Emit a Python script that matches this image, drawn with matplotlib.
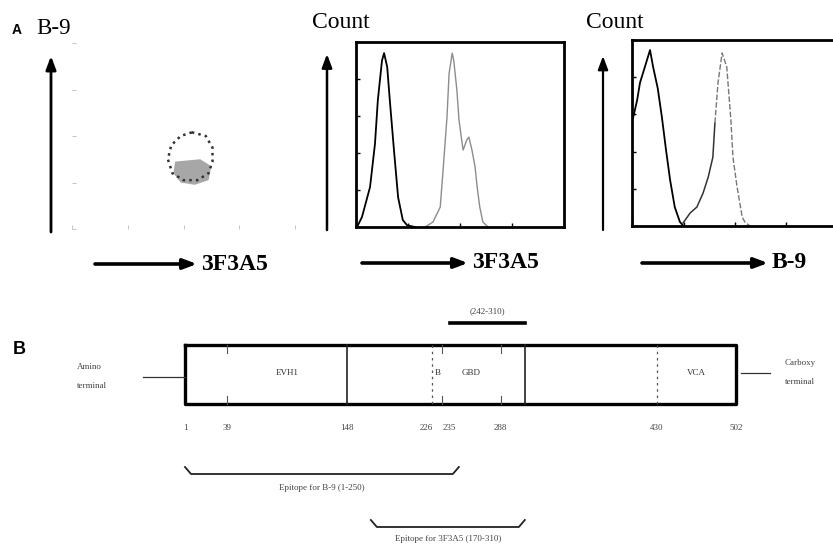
import numpy as np
import matplotlib
matplotlib.use("Agg")
import matplotlib.pyplot as plt

# ---- data (log10 fluorescence, % of max count) ----
# panel A: B-9 vs 3F3A5 dot plot, outline of the cell cloud and its dense core
ring_x = [2.15, 2.40, 2.52, 2.52, 2.45, 2.25, 2.00, 1.80, 1.72, 1.78, 1.95, 2.15]
ring_y = [2.08, 2.00, 1.75, 1.45, 1.20, 1.05, 1.05, 1.20, 1.50, 1.80, 2.00, 2.08]
core_x = [1.85, 2.30, 2.50, 2.45, 2.20, 1.95, 1.82]
core_y = [1.45, 1.50, 1.35, 1.05, 0.95, 1.00, 1.20]

# panel A middle: 3F3A5 histograms
h1_ctrl_x = [0.02, 0.115, 0.27, 0.365, 0.42, 0.50, 0.54, 0.60, 0.65, 0.73, 0.81, 0.90, 0.98, 1.13]
h1_ctrl_y = [0, 5.4, 21.6, 45, 68.6, 90, 94, 86.5, 68.6, 41.6, 16, 3.8, 1, 0]
h1_stain_x = [1.33, 1.48, 1.62, 1.67, 1.75, 1.79, 1.85, 1.88, 1.94, 1.98, 2.04, 2.06,
              2.13, 2.17, 2.23, 2.29, 2.33, 2.38, 2.44, 2.54]
h1_stain_y = [0, 2.7, 10.8, 29, 59.5, 83, 94, 90, 74, 58, 45.4, 41.6,
              47, 48.6, 41.6, 32.4, 21.6, 10.8, 2.7, 0]

# panel A right: B-9 histograms
h2_ctrl_x = [0.02, 0.10, 0.155, 0.25, 0.35, 0.41, 0.50, 0.58, 0.66, 0.74, 0.83, 0.93, 1.0]
h2_ctrl_y = [58, 67.7, 77, 85.5, 94.6, 85.5, 74, 58.6, 41, 24.7, 10.2, 2.2, 0]
h2_rise_x = [0.99, 1.13, 1.26, 1.38, 1.48, 1.57, 1.61]
h2_rise_y = [1.6, 7, 10.2, 17.7, 26.3, 37, 55.4]
h2_peak_x = [1.61, 1.67, 1.75, 1.84, 1.92, 1.96, 2.04, 2.14, 2.19, 2.29]
h2_peak_y = [55.4, 77, 93, 85.5, 57, 37, 21, 4.8, 2.2, 0]

# panel B: WASP domain map (residues)
protein_len = 502
pos_labels = [1, 39, 148, 226, 235, 288, 430, 502]
full_lines = [148, 310]
dotted_lines = [226, 430]
short_marks = [39, 235, 288]
domains = ["EVH1", "B", "GBD", "VCA"]
domain_mid = [93.5, 230.5, 261.5, 466]
bar_range = [242, 310]
epitope1 = [1, 250]
epitope2 = [170, 310]

W, H = 833, 547
fig = plt.figure(figsize=(W / 100, H / 100), dpi=100)

serif = ["Liberation Serif", "DejaVu Serif"]
sans = ["Liberation Sans", "DejaVu Sans"]

# ---- dot plot ----
ax0 = fig.add_axes([72 / W, 1 - 229 / H, 223 / W, 186 / H])
ax0.fill(core_x, core_y, color="#8a8a8a", alpha=0.75, lw=0)
ax0.plot(ring_x, ring_y, color="#333333", lw=1.8, ls=":")
ax0.set_xlim(0, 4)
ax0.set_ylim(0, 4)
for s in ax0.spines.values():
    s.set_visible(False)
ax0.set_xticks(range(5))
ax0.set_yticks(range(5))
ax0.tick_params(colors="#bbbbbb", length=3, width=0.6, labelbottom=False, labelleft=False,
                direction="in")


def hist_axes(rect):
    ax = fig.add_axes(rect)
    ax.set_xlim(0, 4)
    ax.set_ylim(0, 100)
    ax.set_xticks(range(5))
    ax.set_yticks(range(0, 101, 20))
    ax.tick_params(length=3, width=1, direction="in", labelbottom=False, labelleft=False)
    for s in ax.spines.values():
        s.set_linewidth(2)
    ax.patch.set_alpha(0)
    return ax


ax1 = hist_axes([356 / W, 1 - 227 / H, 208 / W, 185 / H])
ax1.plot(h1_ctrl_x, h1_ctrl_y, color="black", lw=1.3)
ax1.plot(h1_stain_x, h1_stain_y, color="#8c8c8c", lw=1.0)

ax2 = hist_axes([632 / W, 1 - 226 / H, 206 / W, 186 / H])
ax2.plot(h2_ctrl_x, h2_ctrl_y, color="black", lw=1.3)
ax2.plot(h2_rise_x, h2_rise_y, color="#333333", lw=1.1)
ax2.plot(h2_peak_x, h2_peak_y, color="#777777", lw=1.0, ls=(0, (4, 1.5)))

# ---- domain map (x in residues, y in layout units) ----
px_per_res = (736 - 185) / (protein_len - 1)
axd = fig.add_axes([0, 0, 1, 1])
axd.set_xlim(1 - 185 / px_per_res, 1 + (W - 185) / px_per_res)
axd.set_ylim(H, 0)
axd.axis("off")
axd.patch.set_alpha(0)

top, bot = 345, 404
axd.plot([1, protein_len, protein_len, 1, 1], [top, top, bot, bot, top], color="black", lw=2.4)
for r in full_lines:
    axd.plot([r, r], [top, bot], color="#222222", lw=1.2)
for r in dotted_lines:
    axd.plot([r, r], [top, bot], color="#555555", lw=0.9, ls=(0, (2, 3)))
for r in short_marks:
    axd.plot([r, r], [top, top + 8], color="#555555", lw=0.8)
    axd.plot([r, r], [bot - 8, bot], color="#555555", lw=0.8)
for name, m in zip(domains, domain_mid):
    axd.text(m, 373, name, family=serif, fontsize=6.5, color="#333333",
             ha="center", va="center")
for p in pos_labels:
    ha = "center"
    if p == 226:
        ha = "right"
    elif p == 235:
        ha = "left"
    axd.text(p, 428, str(p), family=serif, fontsize=6.5, color="#444444",
             ha=ha, va="center")

# terminal labels
x_left = 1 - (185 - 143) / px_per_res
axd.plot([x_left, 1], [377, 377], color="#333333", lw=0.9)
axd.text(1 - (185 - 77) / px_per_res, 367, "Amino", family=serif, fontsize=6.5,
         color="#444444", va="center")
axd.text(1 - (185 - 77) / px_per_res, 386, "terminal", family=serif, fontsize=6.5,
         color="#444444", va="center")
x_r0 = protein_len + 5 / px_per_res
x_r1 = protein_len + 34 / px_per_res
axd.plot([x_r0, x_r1], [373, 373], color="#333333", lw=0.9)
axd.text(protein_len + 49 / px_per_res, 363, "Carboxy", family=serif, fontsize=6.5,
         color="#444444", va="center")
axd.text(protein_len + 49 / px_per_res, 382, "terminal", family=serif, fontsize=6.5,
         color="#444444", va="center")

# bar above the map
axd.plot(bar_range, [323, 323], color="black", lw=2.6)
axd.text(np.mean(bar_range), 311, "(%d-%d)" % tuple(bar_range), family=serif,
         fontsize=6.5, color="#444444", ha="center", va="center")


def bracket(rng, y, label, dy):
    a, b = rng
    hook = 6 / px_per_res
    axd.plot([a, a + hook, b - hook, b], [y - 7, y, y, y - 7], color="#222222", lw=1.3)
    axd.text((a + b) / 2, y + dy, label, family=serif, fontsize=6.5, color="#444444",
             ha="center", va="center")


bracket(epitope1, 474, "Epitope for B-9 (%d-%d)" % tuple(epitope1), 14)
bracket(epitope2, 527, "Epitope for 3F3A5 (%d-%d)" % tuple(epitope2), 12)

# ---- overlay: arrows and panel labels ----
ov = fig.add_axes([0, 0, 1, 1])
ov.set_xlim(0, W)
ov.set_ylim(H, 0)
ov.axis("off")
ov.patch.set_alpha(0)

def arrow(x0, y0, x1, y1, lw):
    ov.annotate("", xy=(x1, y1), xytext=(x0, y0),
                arrowprops=dict(arrowstyle="-|>,head_length=0.8,head_width=0.3",
                                color="black", lw=lw, shrinkA=0, shrinkB=0))

arrow(51, 232, 51, 56, 2.0)
arrow(327, 230, 327, 54, 1.8)
arrow(603, 230, 603, 56, 1.6)
arrow(95, 264, 197, 264, 2.6)
arrow(362, 263, 468, 263, 2.6)
arrow(642, 263, 768, 263, 2.6)

ov.text(12, 30, "A", family=sans, fontweight="bold", fontsize=10, va="center")
ov.text(36, 29, "B-9", family=serif, fontsize=16.5, va="center")
ov.text(312, 22, "Count", family=serif, fontsize=17, va="center")
ov.text(586, 22, "Count", family=serif, fontsize=17, va="center")
ov.text(201, 264, "3F3A5", family=serif, fontweight="bold", fontsize=17, va="center")
ov.text(472, 263, "3F3A5", family=serif, fontweight="bold", fontsize=17, va="center")
ov.text(772, 263, "B-9", family=serif, fontweight="bold", fontsize=17, va="center")
ov.text(13, 349, "B", family=sans, fontweight="bold", fontsize=13, va="center")

fig.savefig("out.png", dpi=100)
